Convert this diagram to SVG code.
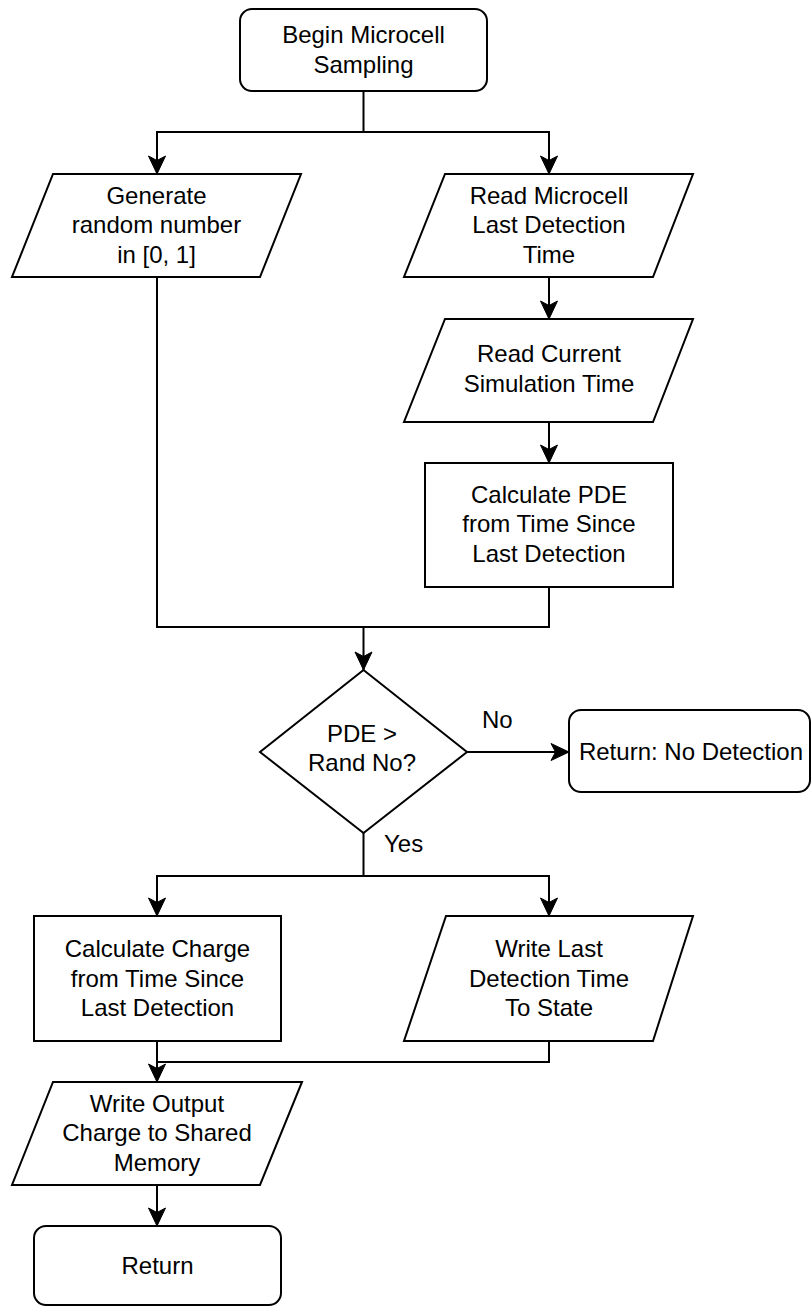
<svg xmlns="http://www.w3.org/2000/svg" width="812" height="1306" viewBox="0 0 812 1306">
  <style>
    .shape { fill: #ffffff; stroke: #000000; stroke-width: 2; }
    .edge { fill: none; stroke: #000000; stroke-width: 2; }
    .label { font-family: "Liberation Sans", Arial, Helvetica, sans-serif; font-size: 24px; fill: #000000; text-anchor: middle; }
    .tag { font-family: "Liberation Sans", Arial, Helvetica, sans-serif; font-size: 24px; fill: #000000; }
  </style>
  <defs>
    <marker id="arrow" markerUnits="userSpaceOnUse" markerWidth="20" markerHeight="20" viewBox="0 -10 20 20" refX="18" refY="0" orient="auto" overflow="visible">
      <path d="M0,-8.5 L18,0 L0,8.5 L4.5,0 Z" fill="#000000" stroke="#000000" stroke-width="1"/>
    </marker>
  </defs>
  <rect width="812" height="1306" fill="#ffffff"/>

  <!-- connectors -->
  <g id="connectors">
    <!-- start splits into the two input branches -->
    <path class="edge" d="M363.5,91 V132 H157 V174" marker-end="url(#arrow)"/>
    <path class="edge" d="M363.5,132 H549 V174" marker-end="url(#arrow)"/>
    <path class="edge" d="M549,277 V319" marker-end="url(#arrow)"/>
    <path class="edge" d="M549,422 V463" marker-end="url(#arrow)"/>
    <!-- branches join before the decision -->
    <path class="edge" d="M157,277 V627 H549 V587"/>
    <path class="edge" d="M363.5,627 V670" marker-end="url(#arrow)"/>
    <!-- decision outcomes -->
    <path class="edge" d="M467,752 H569" marker-end="url(#arrow)"/>
    <path class="edge" d="M363.5,833 V876 H157 V916" marker-end="url(#arrow)"/>
    <path class="edge" d="M363.5,876 H549 V916" marker-end="url(#arrow)"/>
    <!-- join into the output write -->
    <path class="edge" d="M549,1041 V1062 H157"/>
    <path class="edge" d="M157,1041 V1082" marker-end="url(#arrow)"/>
    <path class="edge" d="M157,1185 V1226" marker-end="url(#arrow)"/>
    <text class="tag" x="482" y="728">No</text>
    <text class="tag" x="384" y="852">Yes</text>
  </g>

  <g id="begin">
    <rect class="shape" x="240" y="9" width="247" height="82" rx="12" ry="12"/>
    <text class="label" x="363.5" y="43">Begin Microcell</text>
    <text class="label" x="363.5" y="73">Sampling</text>
  </g>

  <g id="generate-random">
    <polygon class="shape" points="53,174 301,174 260,277 12,277"/>
    <text class="label" x="156.5" y="204">Generate</text>
    <text class="label" x="156.5" y="233">random number</text>
    <text class="label" x="156.5" y="263">in [0, 1]</text>
  </g>

  <g id="read-last-detection">
    <polygon class="shape" points="445,174 693,174 653,277 404,277"/>
    <text class="label" x="549" y="204">Read Microcell</text>
    <text class="label" x="549" y="233">Last Detection</text>
    <text class="label" x="549" y="263">Time</text>
  </g>

  <g id="read-current-time">
    <polygon class="shape" points="445,319 693,319 653,422 404,422"/>
    <text class="label" x="549" y="362">Read Current</text>
    <text class="label" x="549" y="392">Simulation Time</text>
  </g>

  <g id="calc-pde">
    <rect class="shape" x="425" y="463" width="248" height="124"/>
    <text class="label" x="549" y="503">Calculate PDE</text>
    <text class="label" x="549" y="532">from Time Since</text>
    <text class="label" x="549" y="562">Last Detection</text>
  </g>

  <g id="decision">
    <polygon class="shape" points="363.5,670 467,752 363.5,833 260,752"/>
    <text class="label" x="362" y="742">PDE &gt;</text>
    <text class="label" x="362" y="771">Rand No?</text>
  </g>

  <g id="return-no-detection">
    <rect class="shape" x="569" y="710" width="241" height="82" rx="12" ry="12"/>
    <text class="label" x="691" y="760">Return: No Detection</text>
  </g>

  <g id="calc-charge">
    <rect class="shape" x="34" y="916" width="247" height="125"/>
    <text class="label" x="157.5" y="957">Calculate Charge</text>
    <text class="label" x="157.5" y="987">from Time Since</text>
    <text class="label" x="157.5" y="1016">Last Detection</text>
  </g>

  <g id="write-last-detection">
    <polygon class="shape" points="446,916 693,916 653,1041 404,1041"/>
    <text class="label" x="549" y="957">Write Last</text>
    <text class="label" x="549" y="987">Detection Time</text>
    <text class="label" x="549" y="1016">To State</text>
  </g>

  <g id="write-output">
    <polygon class="shape" points="53,1082 302,1082 260,1185 12,1185"/>
    <text class="label" x="157" y="1112">Write Output</text>
    <text class="label" x="157" y="1141">Charge to Shared</text>
    <text class="label" x="157" y="1171">Memory</text>
  </g>

  <g id="return">
    <rect class="shape" x="34" y="1226" width="247" height="79" rx="12" ry="12"/>
    <text class="label" x="157.5" y="1274">Return</text>
  </g>
</svg>
